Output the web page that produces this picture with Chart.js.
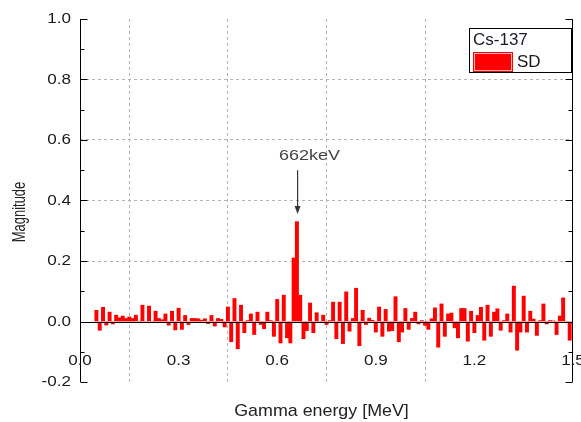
<!DOCTYPE html>
<html><head><meta charset="utf-8">
<script src="https://cdn.jsdelivr.net/npm/chart.js@4.4.1/dist/chart.umd.min.js"></script>
<style>html,body{margin:0;padding:0;background:#fff;}canvas{display:block;}</style>
</head><body>
<canvas id="c" width="581" height="422"></canvas>
<script>
const energies = [0.05,0.06,0.07,0.08,0.09,0.10,0.11,0.12,0.13,0.14,0.15,0.16,0.17,0.18,0.19,0.20,0.21,0.22,0.23,0.24,0.25,0.26,0.27,0.28,0.29,0.30,0.31,0.32,0.33,0.34,0.35,0.36,0.37,0.38,0.39,0.40,0.41,0.42,0.43,0.44,0.45,0.46,0.47,0.48,0.49,0.50,0.51,0.52,0.53,0.54,0.55,0.56,0.57,0.58,0.59,0.60,0.61,0.62,0.63,0.64,0.65,0.66,0.67,0.68,0.69,0.70,0.71,0.72,0.73,0.74,0.75,0.76,0.77,0.78,0.79,0.80,0.81,0.82,0.83,0.84,0.85,0.86,0.87,0.88,0.89,0.90,0.91,0.92,0.93,0.94,0.95,0.96,0.97,0.98,0.99,1.00,1.01,1.02,1.03,1.04,1.05,1.06,1.07,1.08,1.09,1.10,1.11,1.12,1.13,1.14,1.15,1.16,1.17,1.18,1.19,1.20,1.21,1.22,1.23,1.24,1.25,1.26,1.27,1.28,1.29,1.30,1.31,1.32,1.33,1.34,1.35,1.36,1.37,1.38,1.39,1.40,1.41,1.42,1.43,1.44,1.45,1.46,1.47,1.48,1.49];
const magnitudes = [0.037,-0.029,0.047,-0.012,0.031,-0.008,0.021,0.012,0.018,0.010,0.015,0.010,0.021,-0.004,0.054,-0.004,0.051,-0.003,0.034,0.010,0.006,0.025,-0.012,0.034,-0.028,0.044,-0.026,0.020,-0.010,0.010,0.010,0.009,0.004,0.009,-0.007,0.020,-0.015,0.010,0.007,-0.018,0.048,-0.067,0.076,-0.090,0.054,-0.037,0.003,0.025,-0.043,0.031,-0.010,-0.024,0.031,0.003,-0.049,0.073,-0.071,0.087,-0.054,-0.071,0.210,0.330,0.087,-0.057,-0.030,0.061,-0.037,0.029,-0.004,0.021,-0.010,0.003,0.064,-0.057,0.064,-0.073,0.098,-0.032,0.010,0.110,-0.080,0.037,-0.010,0.011,0.004,-0.035,0.048,-0.049,0.040,-0.032,-0.030,0.082,-0.067,-0.035,0.043,-0.026,0.010,0.031,-0.008,0.003,-0.013,-0.026,0.009,0.045,-0.085,0.058,-0.049,0.025,0.028,-0.021,-0.054,0.043,0.043,-0.065,0.034,-0.037,0.020,0.047,-0.062,0.054,-0.049,0.031,0.042,-0.029,0.003,0.025,-0.035,0.117,-0.095,-0.035,0.084,-0.035,0.034,0.008,-0.046,0.003,0.058,-0.008,0.003,0.002,-0.043,0.018,0.078,-0.004,-0.062];
const xTickValues = [0, 0.3, 0.6, 0.9, 1.2, 1.5];
const xTickLabels = ['0.0','0.3','0.6','0.9','1.2','1.5'];
const yTickValues = [-0.2, 0, 0.2, 0.4, 0.6, 0.8, 1.0];
const yTickLabels = ['-0.2','0.0','0.2','0.4','0.6','0.8','1.0'];
const yMinorValues = [-0.1, 0.1, 0.3, 0.5, 0.7, 0.9];
const peakEnergy = 0.662;
const peakLabel = '662keV';
const legendTitle = 'Cs-137';
const seriesName = 'SD';
const xTitle = 'Gamma energy [MeV]';
const yTitle = 'Magnitude';

const FONT = '"Liberation Sans", Arial, sans-serif';
function txt(ctx, s, x, y, size, o) {
  o = o || {};
  ctx.save();
  ctx.translate(x, y);
  if (o.rot) ctx.rotate(o.rot);
  ctx.scale(o.sx || 1, 1);
  ctx.font = size + 'px ' + FONT;
  ctx.fillStyle = o.color || '#1a1a1a';
  ctx.textAlign = o.align || 'center';
  ctx.textBaseline = 'middle';
  ctx.fillText(s, 0, 0);
  ctx.restore();
}

const overlay = {
  id: 'overlay',
  afterDatasetsDraw(chart) {
    const ctx = chart.ctx, a = chart.chartArea;
    const xs = chart.scales.x, ys = chart.scales.y;
    ctx.save();
    ctx.strokeStyle = '#000'; ctx.lineWidth = 1; ctx.setLineDash([]);
    // zero line
    const y0 = Math.round(ys.getPixelForValue(0)) + 0.5;
    ctx.beginPath(); ctx.moveTo(a.left, y0); ctx.lineTo(a.right, y0); ctx.stroke();
    // left and right axes
    const lx = Math.round(a.left) + 0.5, rx = Math.round(a.right) - 0.5;
    ctx.beginPath();
    ctx.moveTo(lx, a.top); ctx.lineTo(lx, a.bottom);
    ctx.moveTo(rx, a.top); ctx.lineTo(rx, a.bottom);
    yTickValues.forEach(v => {
      const y = Math.round(ys.getPixelForValue(v)) + 0.5;
      ctx.moveTo(lx, y); ctx.lineTo(lx + 7, y);
      ctx.moveTo(rx, y); ctx.lineTo(rx - 7, y);
    });
    yMinorValues.forEach(v => {
      const y = Math.round(ys.getPixelForValue(v)) + 0.5;
      ctx.moveTo(lx, y); ctx.lineTo(lx + 4, y);
      ctx.moveTo(rx, y); ctx.lineTo(rx - 4, y);
    });
    ctx.stroke();
    // y tick labels
    yTickValues.forEach((v, i) => {
      txt(ctx, yTickLabels[i], a.left - 9, ys.getPixelForValue(v), 15.5, {align: 'right', sx: 1.1});
    });
    // x tick labels
    xTickValues.forEach((v, i) => {
      txt(ctx, xTickLabels[i], xs.getPixelForValue(v), a.bottom - 21, 15.5, {sx: 1.1});
    });
    // axis titles
    txt(ctx, xTitle, (a.left + a.right) / 2 - 5, 411, 17, {color: '#222', sx: 1.05});
    txt(ctx, yTitle, 20, 212, 18.5, {rot: -Math.PI / 2, sx: 0.7, color: '#222'});
    // annotation
    const px = xs.getPixelForValue(peakEnergy);
    const yTop = ys.getPixelForValue(0.50), yTip = ys.getPixelForValue(0.355);
    ctx.strokeStyle = '#333'; ctx.fillStyle = '#333'; ctx.lineWidth = 1.2;
    ctx.beginPath(); ctx.moveTo(px, yTop); ctx.lineTo(px, yTip - 6); ctx.stroke();
    ctx.beginPath(); ctx.moveTo(px, yTip); ctx.lineTo(px - 3, yTip - 8); ctx.lineTo(px + 3, yTip - 8); ctx.closePath(); ctx.fill();
    txt(ctx, peakLabel, px + 12, ys.getPixelForValue(0.546), 15, {sx: 1.2, color: '#444'});
    // legend
    ctx.fillStyle = '#fff'; ctx.fillRect(469, 28, 102, 44);
    ctx.strokeStyle = '#000'; ctx.lineWidth = 1;
    ctx.strokeRect(469.5, 28.5, 102, 44);
    txt(ctx, legendTitle, 473, 40, 17, {align: 'left', color: '#1a1a2a'});
    ctx.fillStyle = '#ff0000'; ctx.fillRect(473, 52, 40, 20);
    ctx.strokeStyle = '#ffb4b4'; ctx.strokeRect(474.5, 53.5, 37, 17);
    txt(ctx, seriesName, 517, 62, 17, {align: 'left'});
    ctx.restore();
  }
};

new Chart(document.getElementById('c'), {
  type: 'bar',
  data: {
    datasets: [{
      label: seriesName,
      data: energies.map((e, i) => ({x: e, y: magnitudes[i]})),
      backgroundColor: '#ff0000',
      borderWidth: 0,
      barPercentage: 1,
      categoryPercentage: 1
    }]
  },
  options: {
    responsive: false,
    animation: false,
    devicePixelRatio: 1,
    layout: {padding: {top: 19, right: 8, left: 0, bottom: 0}},
    plugins: {legend: {display: false}, tooltip: {enabled: false}},
    scales: {
      x: {
        type: 'linear', min: 0, max: 1.5, offset: false,
        afterBuildTicks: s => { s.ticks = xTickValues.map(v => ({value: v})); },
        ticks: {display: false},
        grid: {drawTicks: false, lineWidth: 1,
          color: c => (c.tick && c.tick.value > 0.01 && c.tick.value < 1.49) ? '#b4b4b4' : 'rgba(0,0,0,0)'},
        border: {display: false, dash: [3, 3]},
        afterFit: s => { s.height = 40; }
      },
      y: {
        min: -0.2, max: 1.0,
        afterBuildTicks: s => { s.ticks = yTickValues.map(v => ({value: v})); },
        ticks: {display: false},
        grid: {drawTicks: false, lineWidth: 1,
          color: c => (c.tick && c.tick.value > 0.01 && c.tick.value < 0.99) ? '#b4b4b4' : 'rgba(0,0,0,0)'},
        border: {display: false, dash: [3, 3]},
        afterFit: s => { s.width = 80; }
      }
    }
  },
  plugins: [overlay]
});
</script>
</body></html>
